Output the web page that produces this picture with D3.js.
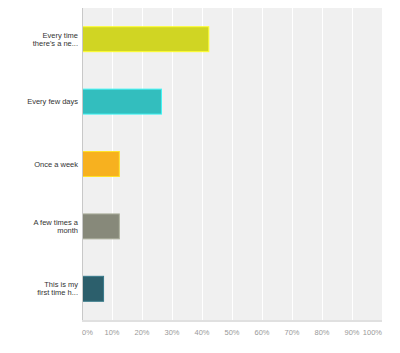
<!DOCTYPE html>
<html>
<head>
<meta charset="utf-8">
<script src="https://cdn.jsdelivr.net/npm/d3@7"></script>
<style>
  body { margin: 0; background: #fff; font-family: Arial, "Liberation Sans", sans-serif; }
</style>
</head>
<body>
<svg id="chart"></svg>
<script>
// answer options (wrapped as shown in the chart) and their share of responses
const categories = [
    ["Every time", "there's a ne..."],
    ["Every few days"],
    ["Once a week"],
    ["A few times a", "month"],
    ["This is my", "first time h..."]
]
const values = [42.11, 26.32, 12.28, 12.28, 7.02]
const colors = ["#d0d523", "#33bebe", "#f7b11f", "#87897a", "#2c5f6c"]
const ticks = [0, 10, 20, 30, 40, 50, 60, 70, 80, 90, 100]

const W = 400, H = 353
const margin = { top: 8, right: 18, bottom: 33, left: 82 }
const width = W - margin.left - margin.right
const height = H - margin.top - margin.bottom

const svg = d3.select("#chart").attr("width", W).attr("height", H)
const group = svg.append("g").attr("transform", `translate(${margin.left}, ${margin.top})`)

const xScale = d3.scaleLinear().domain([0, 100]).range([0, width])
const yScale = d3.scaleBand()
    .domain(d3.range(categories.length))
    .range([0, height])
    .paddingInner(0.6)
    .paddingOuter(0.3)

// plot background
group.append("rect")
    .attr("width", width)
    .attr("height", height)
    .attr("fill", "#f0f0f0")

// vertical grid lines
group.append("g")
    .selectAll("line")
    .data(ticks.slice(1, -1))
    .enter()
    .append("line")
        .attr("x1", d => Math.round(xScale(d)) + 0.5)
        .attr("x2", d => Math.round(xScale(d)) + 0.5)
        .attr("y1", 0)
        .attr("y2", height)
        .attr("stroke", "#ffffff")
        .attr("stroke-width", 1)

// bars
group.append("g")
    .selectAll("rect")
    .data(values)
    .enter()
    .append("rect")
        .attr("x", xScale(0) + 0.5)
        .attr("y", (d, i) => yScale(i))
        .attr("width", d => xScale(d) - xScale(0))
        .attr("height", yScale.bandwidth())
        .attr("fill", (d, i) => colors[i])
        .attr("stroke", (d, i) => d3.color(colors[i]).brighter(0.7))
        .attr("stroke-width", 1)

// axis lines
group.append("line")
    .attr("x1", 0.5).attr("x2", 0.5)
    .attr("y1", 0).attr("y2", height + 1)
    .attr("stroke", "#c8c8c8")
group.append("line")
    .attr("x1", 0).attr("x2", width)
    .attr("y1", height + 1).attr("y2", height + 1)
    .attr("stroke", "#e0e0e0")
    .attr("stroke-width", 2)

// category labels
const labels = group.append("g")
    .selectAll("text")
    .data(categories)
    .enter()
    .append("text")
        .attr("text-anchor", "end")
        .attr("fill", "#333")
        .attr("font-size", "7.5px")
labels.each(function(lines, i) {
    const cy = yScale(i) + yScale.bandwidth() / 2
    d3.select(this).selectAll("tspan")
        .data(lines)
        .enter()
        .append("tspan")
            .attr("x", -4)
            .attr("y", (d, j) => cy + 2.5 + (j - (lines.length - 1) / 2) * 8)
            .text(d => d)
})

// x tick labels
group.append("g")
    .selectAll("text")
    .data(ticks)
    .enter()
    .append("text")
        .attr("x", d => xScale(d))
        .attr("y", height + 15)
        .attr("text-anchor", (d, i) => i == 0 ? "start" : (i == ticks.length - 1 ? "end" : "middle"))
        .attr("fill", "#999")
        .attr("font-size", "7.5px")
        .text(d => d + "%")
</script>
</body>
</html>
